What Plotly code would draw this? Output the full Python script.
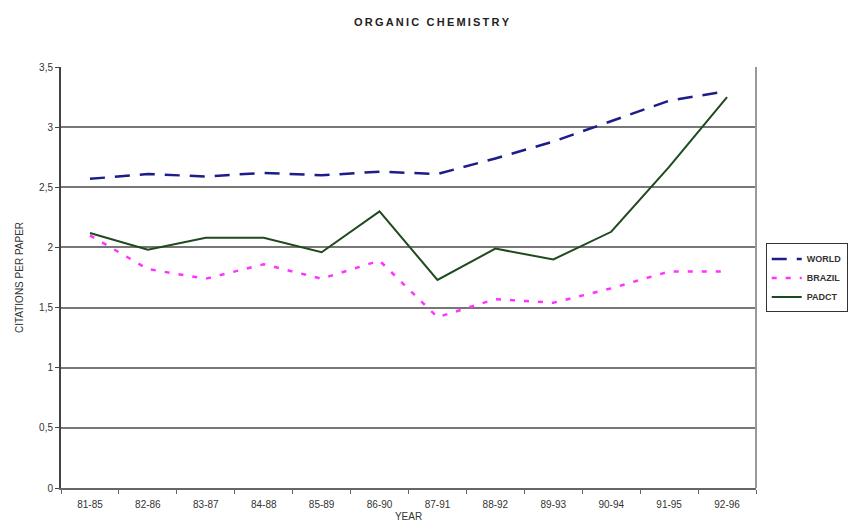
import plotly.graph_objects as go

years = ["81-85", "82-86", "83-87", "84-88", "85-89", "86-90",
         "87-91", "88-92", "89-93", "90-94", "91-95", "92-96"]
world = [2.57, 2.61, 2.59, 2.62, 2.60, 2.63, 2.61, 2.74, 2.88, 3.05, 3.22, 3.30]
brazil = [2.10, 1.82, 1.74, 1.86, 1.74, 1.89, 1.42, 1.57, 1.54, 1.66, 1.80, 1.80]
padct = [2.12, 1.98, 2.08, 2.08, 1.96, 2.30, 1.73, 1.99, 1.90, 2.13, 2.67, 3.25]

y_ticks = [0, 0.5, 1, 1.5, 2, 2.5, 3, 3.5]
y_tick_text = ["0", "0,5", "1", "1,5", "2", "2,5", "3", "3,5"]

font_family = "Liberation Sans, Arial, sans-serif"
title_text = "\u2009".join("ORGANIC CHEMISTRY")

fig = go.Figure()
fig.add_trace(go.Scatter(x=years, y=world, name="<b>WORLD</b>", mode="lines",
                         line=dict(color="#1c1c8a", width=2.5, dash="15px,10px")))
fig.add_trace(go.Scatter(x=years, y=brazil, name="<b>BRAZIL</b>", mode="lines",
                         line=dict(color="#ff33ff", width=2.5, dash="5px,9px")))
fig.add_trace(go.Scatter(x=years, y=padct, name="<b>PADCT</b>", mode="lines",
                         line=dict(color="#1e4a1e", width=2)))

fig.update_layout(
    width=863, height=532,
    margin=dict(l=61, r=107, t=67, b=44),
    paper_bgcolor="white", plot_bgcolor="white",
    font=dict(family=font_family, size=10, color="#333333"),
    title=dict(text="<b>" + title_text + "</b>", x=0.5, xanchor="center",
               y=0.958, yanchor="middle",
               font=dict(size=11, color="#222222", family=font_family)),
    showlegend=True,
    legend=dict(x=1.014, y=0.499, xanchor="left", yanchor="middle",
                bordercolor="#333333", borderwidth=1, bgcolor="white",
                font=dict(size=9, color="#333333"),
                tracegroupgap=0),
)

fig.update_xaxes(
    type="category", range=[-0.5, 11.5],
    showline=True, linecolor="#666666", linewidth=2, mirror=False,
    ticks="outside", ticklen=4, tickcolor="#666666", tickson="boundaries",
    ticklabelstandoff=6, tickfont=dict(size=10),
    showgrid=False, tickangle=0,
    title=dict(text="YEAR", standoff=4, font=dict(size=10, color="#333333")),
)
fig.update_yaxes(
    range=[0, 3.5], tickvals=y_ticks, ticktext=y_tick_text,
    showline=True, linecolor="#444444", linewidth=2,
    ticks="outside", ticklen=4, tickcolor="#444444",
    tickfont=dict(size=10),
    showgrid=True, gridcolor="#777777", gridwidth=2, zeroline=False,
    title=dict(text="CITATIONS PER PAPER", standoff=14,
               font=dict(size=10, color="#333333")),
)

# right-hand frame edge of the plotting area
fig.add_shape(type="line", xref="paper", yref="paper", x0=1, x1=1, y0=0, y1=1,
              line=dict(color="#999999", width=2))

fig.write_html("out.html")
